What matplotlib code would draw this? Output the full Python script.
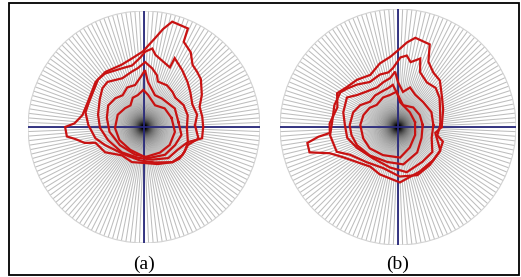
import numpy as np
import matplotlib
matplotlib.use("Agg")
import matplotlib.pyplot as plt
from matplotlib.collections import LineCollection
from matplotlib.patches import Rectangle, Circle

# ---------------- data (polar: angle in degrees, radius normalised) -------------
panel_labels = ["(a)", "(b)"]
n_spokes = 160

a1_ang = [0, 10, 20, 29, 40, 46, 52, 58, 65, 66, 75, 79, 83, 91, 100, 110, 125, 137, 156, 169, 177, 180, 187, 190, 195, 198, 213, 232, 251, 270, 290, 309, 318, 329, 341, 349]
a1_r   = [0.51, 0.51, 0.51, 0.57, 0.64, 0.66, 0.68, 0.76, 0.81, 0.93, 0.94, 0.86, 0.77, 0.65, 0.60, 0.57, 0.58, 0.57, 0.53, 0.54, 0.60, 0.68, 0.67, 0.60, 0.53, 0.44, 0.40, 0.31, 0.32, 0.31, 0.34, 0.39, 0.41, 0.41, 0.40, 0.51]

a2_ang = [2, 13, 25, 37, 46, 56, 66, 66.5, 72, 81, 84, 89, 93, 101, 110, 126, 134, 157, 166, 178, 193, 205, 236, 263, 287, 309, 324, 338, 348]
a2_r   = [0.44, 0.47, 0.46, 0.50, 0.54, 0.59, 0.65, 0.56, 0.58, 0.63, 0.68, 0.65, 0.60, 0.54, 0.54, 0.57, 0.57, 0.52, 0.52, 0.48, 0.43, 0.37, 0.29, 0.29, 0.32, 0.39, 0.41, 0.41, 0.48]

a3_ang = [359, 15, 29, 43, 51, 61, 73, 76, 82, 89, 96, 102, 114, 129, 137, 148, 165, 181, 200, 229, 259, 284, 308, 326, 341]
a3_r   = [0.37, 0.39, 0.39, 0.37, 0.39, 0.41, 0.41, 0.46, 0.51, 0.56, 0.51, 0.49, 0.46, 0.50, 0.49, 0.45, 0.41, 0.38, 0.33, 0.29, 0.27, 0.29, 0.34, 0.35, 0.40]

a4_ang = [8, 31, 47, 58, 71, 85, 89, 94, 102, 113, 124, 135, 149, 166, 188, 217, 252, 281, 307, 330, 348]
a4_r   = [0.30, 0.31, 0.29, 0.29, 0.29, 0.39, 0.49, 0.43, 0.37, 0.37, 0.33, 0.35, 0.36, 0.33, 0.30, 0.26, 0.25, 0.27, 0.30, 0.31, 0.33]

a5_ang = [18, 42, 63, 83, 91, 101, 111, 122, 135, 155, 182, 208, 239, 272, 302, 325, 351]
a5_r   = [0.25, 0.24, 0.21, 0.28, 0.32, 0.28, 0.27, 0.22, 0.23, 0.25, 0.25, 0.24, 0.23, 0.26, 0.26, 0.27, 0.27]

b1_ang = [0, 21, 34, 48, 57, 65, 69, 79, 84, 88, 96, 106, 118, 131, 142, 151, 162, 177, 185, 187, 190, 196, 201, 209, 220, 235, 249, 272, 296, 317, 331, 351]
b1_r   = [0.37, 0.41, 0.45, 0.53, 0.55, 0.61, 0.75, 0.77, 0.72, 0.67, 0.60, 0.56, 0.50, 0.53, 0.55, 0.59, 0.54, 0.58, 0.58, 0.68, 0.78, 0.78, 0.62, 0.53, 0.46, 0.41, 0.43, 0.47, 0.42, 0.41, 0.41, 0.32]

b2_ang = [3, 20, 35, 46, 57, 68, 72, 79, 83, 88, 95, 100, 109, 122, 134, 143, 149, 161, 176, 187, 202, 210, 228, 250, 272, 292, 310, 329, 342, 348]
b2_r   = [0.36, 0.38, 0.43, 0.46, 0.45, 0.50, 0.61, 0.56, 0.61, 0.59, 0.50, 0.47, 0.47, 0.45, 0.50, 0.54, 0.57, 0.57, 0.56, 0.58, 0.56, 0.47, 0.40, 0.37, 0.42, 0.44, 0.42, 0.41, 0.40, 0.34]

b3_ang = [3, 24, 45, 62, 73, 82, 90, 93, 99, 108, 118, 131, 142, 150, 165, 178, 192, 207, 231, 259, 281, 305, 324, 342]
b3_r   = [0.30, 0.31, 0.30, 0.31, 0.35, 0.30, 0.38, 0.47, 0.42, 0.40, 0.38, 0.40, 0.44, 0.50, 0.48, 0.45, 0.44, 0.39, 0.34, 0.35, 0.39, 0.36, 0.36, 0.30]

b4_ang = [5, 29, 52, 77, 90, 97, 104, 115, 126, 138, 150, 162, 178, 190, 204, 225, 253, 278, 307, 335]
b4_r   = [0.21, 0.21, 0.21, 0.19, 0.27, 0.36, 0.34, 0.33, 0.33, 0.32, 0.37, 0.40, 0.41, 0.40, 0.38, 0.34, 0.31, 0.32, 0.27, 0.22]

b5_ang = [16, 51, 85, 92, 104, 117, 134, 146, 161, 177, 198, 217, 242, 274, 300, 335]
b5_r   = [0.15, 0.16, 0.21, 0.30, 0.28, 0.28, 0.26, 0.29, 0.31, 0.32, 0.31, 0.30, 0.27, 0.26, 0.20, 0.16]

panels = [
    [(a1_ang, a1_r), (a2_ang, a2_r), (a3_ang, a3_r), (a4_ang, a4_r), (a5_ang, a5_r)],
    [(b1_ang, b1_r), (b2_ang, b2_r), (b3_ang, b3_r), (b4_ang, b4_r), (b5_ang, b5_r)],
]

# ---------------- figure ----------------
W, H = 521, 277
fig = plt.figure(figsize=(W / 100, H / 100), dpi=100)
fig.patch.set_facecolor("white")

# axes boxes in pixels: (centre x, centre y from top, radius)
boxes = [(144, 127, 116), (398, 127, 118)]
label_y = 264

cross_color = "#27277a"
red = "#c81212"

for (cx, cy, R), contours, lab in zip(boxes, panels, panel_labels):
    ax = fig.add_axes([(cx - R) / W, (H - cy - R) / H, 2 * R / W, 2 * R / H])
    ax.set_xlim(-1, 1)
    ax.set_ylim(-1, 1)
    ax.set_aspect("equal")
    ax.axis("off")

    th = np.linspace(0, 2 * np.pi, n_spokes, endpoint=False)
    segs = [[(0, 0), (np.cos(t), np.sin(t))] for t in th]
    ax.add_collection(LineCollection(segs, colors="black", alpha=0.26,
                                     linewidths=0.75, zorder=1))
    ax.add_patch(Circle((0, 0), 1, fill=False, ec="#d2d2d2", lw=0.8, zorder=1))

    ax.plot([-1, 1], [0, 0], color=cross_color, lw=1.3, zorder=2)
    ax.plot([0, 0], [-1, 1], color=cross_color, lw=1.3, zorder=2)

    for ang, r in contours:
        t = np.deg2rad(np.array(ang + ang[:1], dtype=float))
        rr = np.array(r + r[:1], dtype=float)
        ax.plot(rr * np.cos(t), rr * np.sin(t), color=red, lw=1.6,
                solid_joinstyle="miter", zorder=3)

    fig.text(cx / W, 1 - label_y / H, lab, ha="center", va="center",
             fontsize=14, family="Liberation Serif")

fig.add_artist(Rectangle((9 / W, 2 / H), 510 / W, 272 / H, transform=fig.transFigure,
                         fill=False, ec="black", lw=1.3))

fig.savefig("out.png", dpi=100)
